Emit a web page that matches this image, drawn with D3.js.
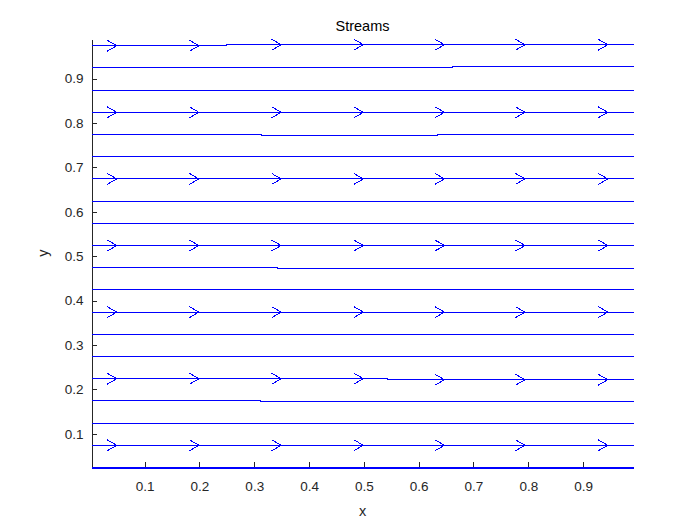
<!DOCTYPE html>
<html>
<head>
<meta charset="utf-8">
<script src="https://cdn.jsdelivr.net/npm/d3@7"></script>
<style>
  body { margin: 0; background: #fff; }
  svg { font-family: "Liberation Sans", Arial, sans-serif; }
</style>
</head>
<body>
<div id="chart"></div>
<script>
// streamline start heights (one horizontal stream per value)
var streamY = [0.025, 0.075, 0.125, 0.175, 0.225, 0.275, 0.325, 0.375, 0.425, 0.475,
               0.525, 0.575, 0.625, 0.675, 0.725, 0.775, 0.825, 0.875, 0.925, 0.975];
var streamX = [0.003, 0.992];
// rows that carry arrow heads, and where the heads sit along x
var arrowRows = [0.075, 0.225, 0.375, 0.525, 0.675, 0.825, 0.975];
var arrowX = [0.049, 0.199, 0.349, 0.499, 0.647, 0.794, 0.945];
// small drifts of a stream (row, x where it happens, change in y)
var stepRow = [0.975, 0.925, 0.775, 0.775, 0.475, 0.225, 0.175];
var stepX = [0.250, 0.661, 0.314, 0.635, 0.343, 0.544, 0.312];
var stepDy = [0.0023, 0.0023, -0.0023, 0.0023, -0.0023, -0.0023, -0.0023];
var xTicks = [0.1, 0.2, 0.3, 0.4, 0.5, 0.6, 0.7, 0.8, 0.9];
var yTicks = [0.1, 0.2, 0.3, 0.4, 0.5, 0.6, 0.7, 0.8, 0.9];

var padding = {top: 39, right: 66.5, bottom: 58, left: 91.5};
var width = 700 - padding.left - padding.right;
var height = 525 - padding.top - padding.bottom;

var x = d3.scaleLinear().domain([0.003, 0.992]).range([0, width]);
var y = d3.scaleLinear().domain([0.025, 0.989]).range([height, 0]);

var svg = d3.select("#chart").append("svg")
    .attr("width", 700)
    .attr("height", 525);

var canvas = svg.append("g")
    .attr("transform", "translate(" + padding.left + ", " + padding.top + ")");

// build each stream as a polyline, including its drifts
var streams = streamY.map(function(y0) {
  var pts = [[streamX[0], y0]];
  var cur = y0;
  var s = stepRow.map(function(r, i) { return i; })
    .filter(function(i) { return stepRow[i] === y0; })
    .sort(function(a, b) { return stepX[a] - stepX[b]; });
  s.forEach(function(i) {
    pts.push([stepX[i], cur]);
    cur += stepDy[i];
    pts.push([stepX[i], cur]);
  });
  pts.push([streamX[1], cur]);
  return {y0: y0, pts: pts};
});

function yAt(stream, xv) {
  var yy = stream.pts[0][1];
  stream.pts.forEach(function(p) { if (p[0] <= xv) yy = p[1]; });
  return yy;
}

var xAxis = d3.axisBottom(x).tickValues(xTicks).tickSizeInner(-5).tickSizeOuter(0).tickPadding(14)
  .tickFormat(d3.format(".1f"));
var yAxis = d3.axisLeft(y).tickValues(yTicks).tickSizeInner(-5).tickSizeOuter(0).tickPadding(8)
  .tickFormat(d3.format(".1f"));

var gx = canvas.append("g")
  .attr("transform", "translate(0, " + height + ")")
  .call(xAxis);
var gy = canvas.append("g")
  .call(yAxis);

[gx, gy].forEach(function(g) {
  g.select(".domain").attr("stroke", "#262626").attr("shape-rendering", "crispEdges");
  g.selectAll(".tick line").attr("stroke", "#262626").attr("shape-rendering", "crispEdges");
  g.selectAll(".tick text").attr("fill", "#262626").style("font-size", "13.5px");
});

// half-pixel offset keeps 1px strokes on whole pixel rows
var line = d3.line()
  .x(function(d) { return x(d[0]); })
  .y(function(d) { return y(d[1]) + 0.5; });

var streamLayer = svg.append("g")
    .attr("transform", "translate(" + padding.left + ", " + padding.top + ")");

streamLayer.selectAll(".stream")
  .data(streams)
  .enter()
  .append("path")
    .attr("class", "stream")
    .attr("d", function(d) { return line(d.pts); })
    .attr("fill", "none")
    .attr("stroke", "#0000ff")
    .attr("stroke-width", function(d) { return d.y0 === streamY[0] ? 2 : 1; })
    .attr("shape-rendering", "crispEdges");

// arrow heads
var heads = [];
streams.forEach(function(s) {
  if (arrowRows.indexOf(s.y0) < 0) return;
  arrowX.forEach(function(ax) { heads.push({x: ax, y: yAt(s, ax)}); });
});

streamLayer.selectAll(".head")
  .data(heads)
  .enter()
  .append("path")
    .attr("class", "head")
    .attr("d", function(d) {
      var px = x(d.x), py = y(d.y) + 0.5;
      return "M" + (px - 9.5) + "," + (py - 5.5) + "L" + px + "," + py + "L" + (px - 9.5) + "," + (py + 5.5);
    })
    .attr("fill", "none")
    .attr("stroke", "#0000ff")
    .attr("stroke-width", 1)
    .attr("shape-rendering", "crispEdges");

svg.append("text")
  .attr("x", padding.left + width / 2)
  .attr("y", 31)
  .attr("text-anchor", "middle")
  .attr("fill", "#000")
  .style("font-size", "14.5px")
  .text("Streams");

svg.append("text")
  .attr("x", padding.left + width / 2)
  .attr("y", 516)
  .attr("text-anchor", "middle")
  .attr("fill", "#262626")
  .style("font-size", "14.5px")
  .text("x");

svg.append("text")
  .attr("transform", "translate(48, " + (padding.top + height / 2) + ") rotate(-90)")
  .attr("text-anchor", "middle")
  .attr("fill", "#262626")
  .style("font-size", "14.5px")
  .text("y");
</script>
</body>
</html>
